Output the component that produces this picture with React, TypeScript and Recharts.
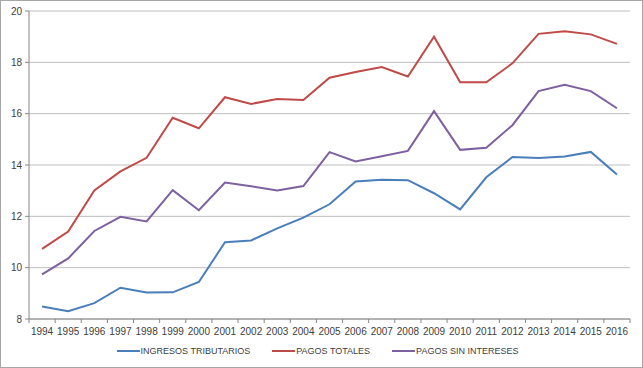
import React from 'react';
import { LineChart, Line, XAxis, YAxis, CartesianGrid, Legend } from 'recharts';

const years = ['1994','1995','1996','1997','1998','1999','2000','2001','2002','2003','2004','2005','2006','2007','2008','2009','2010','2011','2012','2013','2014','2015','2016'];
const ingresosTributarios = [8.49,8.3,8.62,9.22,9.03,9.04,9.44,10.99,11.06,11.53,11.95,12.47,13.36,13.43,13.41,12.9,12.27,13.52,14.31,14.27,14.33,14.51,13.63];
const pagosTotales = [10.73,11.41,13.01,13.75,14.28,15.84,15.43,16.64,16.38,16.57,16.53,17.4,17.62,17.82,17.45,19.0,17.22,17.22,17.96,19.11,19.21,19.09,18.72];
const pagosSinIntereses = [9.74,10.36,11.43,11.98,11.8,13.02,12.24,13.32,13.17,13.01,13.18,14.5,14.14,14.34,14.55,16.1,14.59,14.67,15.55,16.88,17.13,16.88,16.21];
const yTicks = [8,10,12,14,16,18,20];

const series = [
  { key: 'ing', name: 'INGRESOS TRIBUTARIOS', color: '#4a7ebb', values: ingresosTributarios },
  { key: 'tot', name: 'PAGOS TOTALES', color: '#be4b48', values: pagosTotales },
  { key: 'sin', name: 'PAGOS SIN INTERESES', color: '#7d60a0', values: pagosSinIntereses },
];

const data = years.map((y, i) => ({
  year: y,
  ing: ingresosTributarios[i],
  tot: pagosTotales[i],
  sin: pagosSinIntereses[i],
}));

const FONT = '"Liberation Sans", Arial, sans-serif';
const TEXT = '#404040';
const AXIS = '#868686';

const XTick = (props: any) => {
  const { x, y, payload, index } = props;
  const half = payload && payload.offset ? payload.offset : 601 / years.length / 2;
  const isLast = index === years.length - 1;
  return (
    <g>
      <line x1={x - half} x2={x - half} y1={y} y2={y + 4} stroke={AXIS} />
      {isLast && <line x1={x + half} x2={x + half} y1={y} y2={y + 4} stroke={AXIS} />}
      <text x={x} y={y + 16} textAnchor="middle" fill={TEXT} fontSize={10} fontFamily={FONT}>{payload.value}</text>
    </g>
  );
};

const LegendContent = () => (
  <div style={{ height: 22, display: 'flex', justifyContent: 'center', alignItems: 'flex-start', fontFamily: FONT, fontSize: 9, color: TEXT, lineHeight: '12px', paddingLeft: 4 }}>
    {series.map((s, i) => (
      <div key={s.key} style={{ display: 'flex', alignItems: 'center', marginLeft: i === 0 ? 0 : 22 }}>
        <div style={{ width: 23, height: 2, background: s.color, marginRight: 1 }} />
        <span>{s.name}</span>
      </div>
    ))}
  </div>
);

export default function App() {
  return (
    <div style={{ position: 'absolute', left: 0, top: 0, width: 641, height: 366, border: '1px solid #a6a6a6', background: '#fff' }}>
      <LineChart width={641} height={366} data={data} margin={{ top: 10, right: 12, left: 0, bottom: 0 }}>
        <CartesianGrid vertical={false} stroke="#bfbfbf" strokeWidth={1} />
        <XAxis dataKey="year" scale="band" interval={0} height={26} tickLine={false} tickSize={0} tickMargin={0} stroke={AXIS} tick={<XTick />} />
        <YAxis domain={[8, 20]} ticks={yTicks} width={28} stroke={AXIS} tickSize={4} tickMargin={3}
          tick={{ fill: TEXT, fontSize: 10, fontFamily: FONT }} />
        {series.map(s => (
          <Line key={s.key} dataKey={s.key} name={s.name} stroke={s.color} strokeWidth={2} dot={false} isAnimationActive={false} />
        ))}
        <Legend verticalAlign="bottom" content={<LegendContent />} />
      </LineChart>
    </div>
  );
}
